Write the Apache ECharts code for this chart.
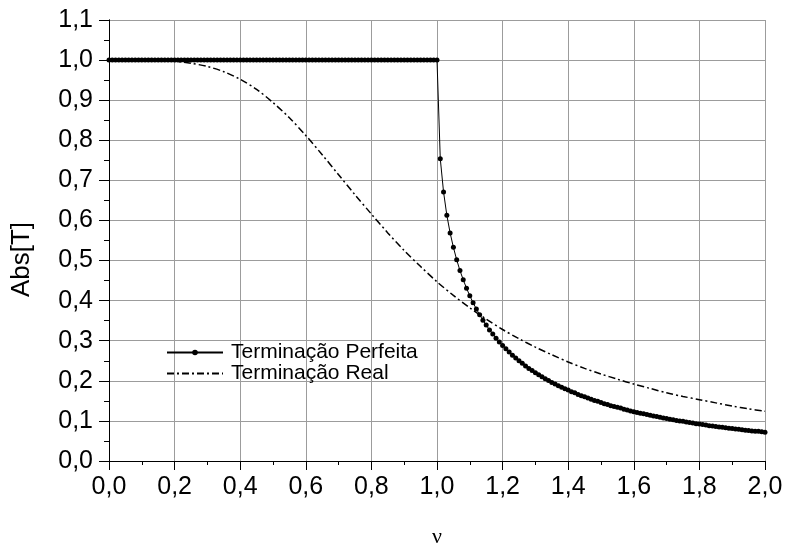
<!DOCTYPE html>
<html>
<head>
<meta charset="utf-8">
<script src="https://cdn.jsdelivr.net/npm/echarts@6/dist/echarts.min.js"></script>
<style>
  html, body { margin: 0; padding: 0; background: #fff; }
  #main { width: 785px; height: 550px; }
</style>
</head>
<body>
<div id="main"></div>
<script>
  // frequencia normalizada (passo 0,01)
  var nuPerf = [
    0.00, 0.01, 0.02, 0.03, 0.04, 0.05, 0.06, 0.07, 0.08, 0.09,
    0.10, 0.11, 0.12, 0.13, 0.14, 0.15, 0.16, 0.17, 0.18, 0.19,
    0.20, 0.21, 0.22, 0.23, 0.24, 0.25, 0.26, 0.27, 0.28, 0.29,
    0.30, 0.31, 0.32, 0.33, 0.34, 0.35, 0.36, 0.37, 0.38, 0.39,
    0.40, 0.41, 0.42, 0.43, 0.44, 0.45, 0.46, 0.47, 0.48, 0.49,
    0.50, 0.51, 0.52, 0.53, 0.54, 0.55, 0.56, 0.57, 0.58, 0.59,
    0.60, 0.61, 0.62, 0.63, 0.64, 0.65, 0.66, 0.67, 0.68, 0.69,
    0.70, 0.71, 0.72, 0.73, 0.74, 0.75, 0.76, 0.77, 0.78, 0.79,
    0.80, 0.81, 0.82, 0.83, 0.84, 0.85, 0.86, 0.87, 0.88, 0.89,
    0.90, 0.91, 0.92, 0.93, 0.94, 0.95, 0.96, 0.97, 0.98, 0.99,
    1.00, 1.01, 1.02, 1.03, 1.04, 1.05, 1.06, 1.07, 1.08, 1.09,
    1.10, 1.11, 1.12, 1.13, 1.14, 1.15, 1.16, 1.17, 1.18, 1.19,
    1.20, 1.21, 1.22, 1.23, 1.24, 1.25, 1.26, 1.27, 1.28, 1.29,
    1.30, 1.31, 1.32, 1.33, 1.34, 1.35, 1.36, 1.37, 1.38, 1.39,
    1.40, 1.41, 1.42, 1.43, 1.44, 1.45, 1.46, 1.47, 1.48, 1.49,
    1.50, 1.51, 1.52, 1.53, 1.54, 1.55, 1.56, 1.57, 1.58, 1.59,
    1.60, 1.61, 1.62, 1.63, 1.64, 1.65, 1.66, 1.67, 1.68, 1.69,
    1.70, 1.71, 1.72, 1.73, 1.74, 1.75, 1.76, 1.77, 1.78, 1.79,
    1.80, 1.81, 1.82, 1.83, 1.84, 1.85, 1.86, 1.87, 1.88, 1.89,
    1.90, 1.91, 1.92, 1.93, 1.94, 1.95, 1.96, 1.97, 1.98, 1.99,
    2.00
  ]

  var absPerf = [
    1, 1, 1, 1, 1, 1, 1, 1, 1, 1,
    1, 1, 1, 1, 1, 1, 1, 1, 1, 1,
    1, 1, 1, 1, 1, 1, 1, 1, 1, 1,
    1, 1, 1, 1, 1, 1, 1, 1, 1, 1,
    1, 1, 1, 1, 1, 1, 1, 1, 1, 1,
    1, 1, 1, 1, 1, 1, 1, 1, 1, 1,
    1, 1, 1, 1, 1, 1, 1, 1, 1, 1,
    1, 1, 1, 1, 1, 1, 1, 1, 1, 1,
    1, 1, 1, 1, 1, 1, 1, 1, 1, 1,
    1, 1, 1, 1, 1, 1, 1, 1, 1, 1,
    1.000, 0.754, 0.671, 0.613, 0.569, 0.533, 0.502, 0.475, 0.452, 0.431,
    0.412, 0.395, 0.379, 0.365, 0.351, 0.339, 0.327, 0.317, 0.306, 0.297,
    0.288, 0.280, 0.272, 0.264, 0.257, 0.250, 0.244, 0.237, 0.231, 0.226,
    0.220, 0.215, 0.210, 0.205, 0.201, 0.196, 0.192, 0.188, 0.184, 0.180,
    0.177, 0.173, 0.170, 0.166, 0.163, 0.160, 0.157, 0.154, 0.151, 0.149,
    0.146, 0.143, 0.141, 0.138, 0.136, 0.134, 0.132, 0.129, 0.127, 0.125,
    0.123, 0.121, 0.119, 0.118, 0.116, 0.114, 0.112, 0.111, 0.109, 0.107,
    0.106, 0.104, 0.103, 0.101, 0.100, 0.099, 0.097, 0.096, 0.095, 0.093,
    0.092, 0.091, 0.090, 0.088, 0.087, 0.086, 0.085, 0.084, 0.083, 0.082,
    0.081, 0.080, 0.079, 0.078, 0.077, 0.076, 0.075, 0.074, 0.074, 0.073,
    0.072
  ]

  // terminacao real (passo 0,05)
  var nuReal = [
    0.00, 0.05, 0.10, 0.15, 0.20, 0.25, 0.30, 0.35, 0.40, 0.45,
    0.50, 0.55, 0.60, 0.65, 0.70, 0.75, 0.80, 0.85, 0.90, 0.95,
    1.00, 1.05, 1.10, 1.15, 1.20, 1.25, 1.30, 1.35, 1.40, 1.45,
    1.50, 1.55, 1.60, 1.65, 1.70, 1.75, 1.80, 1.85, 1.90, 1.95,
    2.00
  ]
  var absReal = [
    1.000, 1.000, 1.000, 0.999, 0.997, 0.992, 0.984, 0.971, 0.952, 0.927,
    0.894, 0.856, 0.812, 0.764, 0.714, 0.664, 0.616, 0.569, 0.525, 0.485,
    0.447, 0.413, 0.382, 0.354, 0.328, 0.305, 0.284, 0.265, 0.247, 0.231,
    0.217, 0.204, 0.192, 0.181, 0.170, 0.161, 0.153, 0.145, 0.137, 0.130,
    0.124
  ]

  var serieNames = ['Terminação Perfeita', 'Terminação Real']

  function pares(xs, ys) {
    return xs.map(function (x, i) { return [x, ys[i]] })
  }
  function virgula(v) {
    return v.toFixed(1).replace('.', ',')
  }

  var myChart = echarts.init(document.getElementById('main'), null, { renderer: 'canvas' })
  var fonte = 'Liberation Sans, Arial, sans-serif'
  var cinza = '#9c9c9c'

  var option = {
    animation: false,
    backgroundColor: '#fff',
    textStyle: { fontFamily: fonte, color: '#000' },
    grid: { left: 109, right: 20, top: 20, bottom: 89, outerBoundsMode: 'none' },
    legend: {
      data: [
        { name: serieNames[0] },
        { name: serieNames[1], itemStyle: { opacity: 0 } }
      ],
      orient: 'vertical',
      left: 161,
      top: 337,
      itemWidth: 56,
      itemHeight: 7,
      itemGap: 0,
      textStyle: { fontSize: 21, color: '#000', fontFamily: fonte, padding: [0, 0, 0, 3] }
    },
    xAxis: [
      {
        type: 'value',
        min: 0,
        max: 2,
        interval: 0.2,
        name: 'ν',
        nameLocation: 'middle',
        nameGap: 65,
        nameTextStyle: { fontSize: 22, fontFamily: 'Liberation Serif, Times New Roman, serif', color: '#000' },
        axisLine: { show: true, onZero: false, lineStyle: { color: '#000', width: 1 } },
        axisTick: { show: true, length: 9, lineStyle: { color: '#000' } },
        minorTick: { show: true, splitNumber: 2, length: 4, lineStyle: { color: '#000' } },
        axisLabel: { fontSize: 25, color: '#000', margin: 14, formatter: virgula },
        splitLine: { show: true, lineStyle: { color: cinza, width: 1 } }
      },
      {
        type: 'value',
        position: 'top',
        min: 0,
        max: 2,
        interval: 0.2,
        axisLine: { show: true, lineStyle: { color: '#000', width: 1 } },
        axisTick: { show: true, inside: true, length: 5, lineStyle: { color: '#000' } },
        minorTick: { show: true, splitNumber: 2, length: 4, lineStyle: { color: '#000' } },
        axisLabel: { show: false },
        splitLine: { show: false }
      }
    ],
    yAxis: [
      {
        type: 'value',
        min: 0,
        max: 1.1,
        interval: 0.1,
        name: 'Abs[T]',
        nameLocation: 'middle',
        nameGap: 74,
        nameTextStyle: { fontSize: 26, color: '#000', fontFamily: fonte, padding: [0, 38, 0, 0] },
        axisLine: { show: true, onZero: false, lineStyle: { color: '#000', width: 1 } },
        axisTick: { show: true, length: 10, lineStyle: { color: '#000' } },
        minorTick: { show: true, splitNumber: 2, length: 5, lineStyle: { color: '#000' } },
        axisLabel: { fontSize: 25, color: '#000', margin: 16, formatter: virgula },
        splitLine: { show: true, lineStyle: { color: cinza, width: 1 } }
      },
      {
        type: 'value',
        position: 'right',
        min: 0,
        max: 1.1,
        interval: 0.1,
        axisLine: { show: true, lineStyle: { color: '#000', width: 1 } },
        axisTick: { show: true, inside: true, length: 4, lineStyle: { color: '#000' } },
        minorTick: { show: true, splitNumber: 2, length: 4, lineStyle: { color: '#000' } },
        axisLabel: { show: false },
        splitLine: { show: false }
      }
    ],
    series: [
      {
        name: serieNames[0],
        type: 'line',
        data: pares(nuPerf, absPerf),
        symbol: 'circle',
        symbolSize: 5,
        showAllSymbol: true,
        itemStyle: { color: '#000' },
        lineStyle: { color: '#000', width: 1 },
        z: 3
      },
      {
        name: serieNames[1],
        type: 'line',
        data: pares(nuReal, absReal),
        smooth: 0.3,
        symbol: 'none',
        itemStyle: { color: '#000' },
        lineStyle: { color: '#000', width: 1.5, type: [7, 3, 2, 3] },
        z: 2
      }
    ]
  }

  myChart.setOption(option)
</script>
</body>
</html>
